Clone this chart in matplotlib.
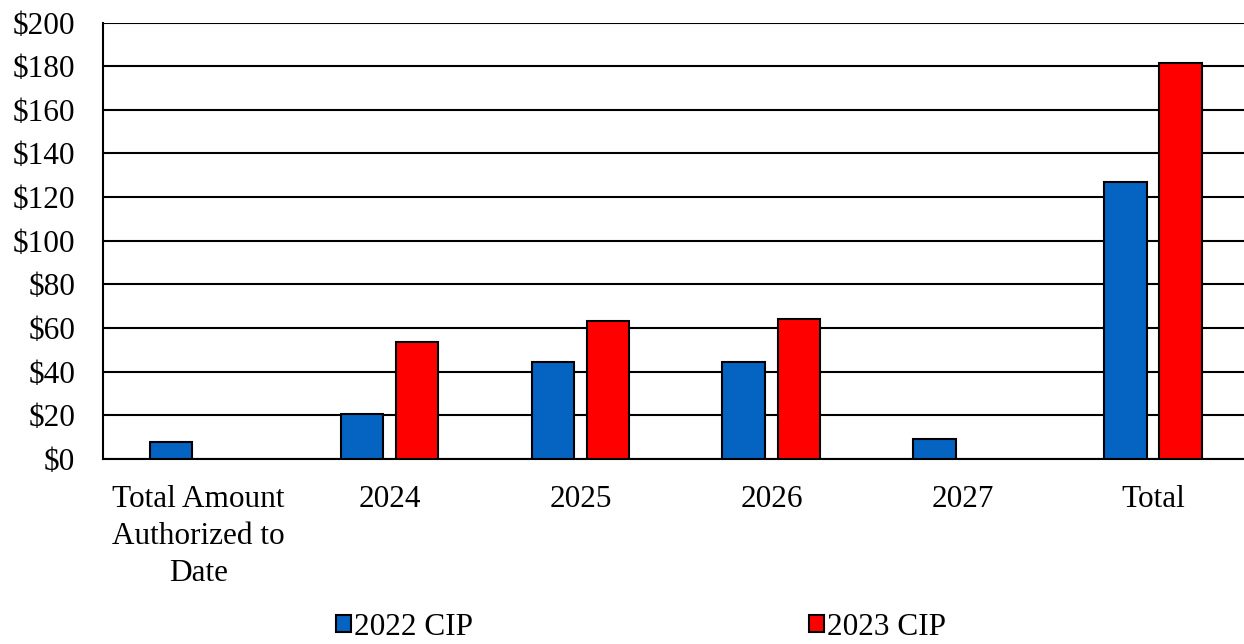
import matplotlib
matplotlib.use("Agg")
import matplotlib.pyplot as plt
import numpy as np

# Datos (millones de $)
categories = ["Total Amount\nAuthorized to\nDate", "2024", "2025", "2026", "2027", "Total"]
cip_2022 = [7.8, 20.6, 44.5, 44.5, 9.0, 127.0]
cip_2023 = [0, 53.7, 63.2, 64.2, 0, 181.6]
yticks = [0, 20, 40, 60, 80, 100, 120, 140, 160, 180, 200]

plt.rcParams["font.family"] = ["Liberation Serif", "DejaVu Serif"]

fig = plt.figure(figsize=(12.44, 6.44), dpi=100)
ax = fig.add_axes([0.0828, 0.2873, 0.9212, 0.6777])

x = np.arange(len(categories))
w = 0.225
off = 0.144
ax.bar(x - off, cip_2022, w, color="#0563C1", edgecolor="black", linewidth=1.5,
       label="2022 CIP", zorder=3)
# las barras con valor 0 no se dibujan
mask = np.array(cip_2023) > 0
ax.bar(x[mask] + off, np.array(cip_2023)[mask], w, color="#FF0000", edgecolor="black",
       linewidth=1.5, label="2023 CIP", zorder=3)

ax.set_xlim(-0.5, 5.5)
ax.set_ylim(0, 200)
ax.set_yticks(yticks)
ax.set_yticklabels([f"${v}" for v in yticks])
ax.set_xticks(x)
ax.set_xticklabels(categories, linespacing=1.35)
ax.tick_params(axis="both", length=0, labelsize=22.5)
ax.tick_params(axis="y", pad=20)
ax.tick_params(axis="x", pad=19)
ax.yaxis.grid(True, color="black", linewidth=1.5, zorder=0)
ax.set_axisbelow(True)

for s in ["top", "right"]:
    ax.spines[s].set_visible(False)
ax.spines["left"].set_linewidth(1.5)
ax.spines["bottom"].set_linewidth(1.5)

# leyenda abajo, un poco más arriba para que no se corte
fig.legend(loc="center", bbox_to_anchor=(0.515, 0.026), ncol=2, frameon=False,
           fontsize=22.5, handlelength=0.48, handleheight=0.48, handletextpad=0.1,
           columnspacing=10.75)

fig.savefig("out.png", dpi=100)
